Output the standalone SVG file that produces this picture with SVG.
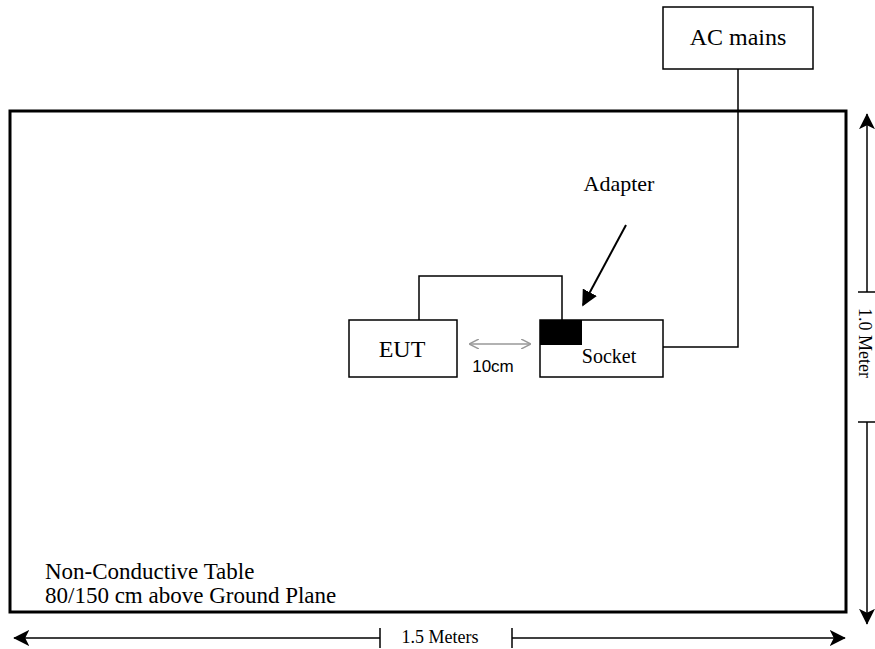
<svg xmlns="http://www.w3.org/2000/svg" width="875" height="649" viewBox="0 0 875 649">
<style>
.t{font-family:"Liberation Serif","Times New Roman",serif;fill:#000}
.box{fill:#fff;stroke:#000;stroke-width:1.5}
.ln{fill:none;stroke:#000;stroke-width:1.5}
</style>
<defs>
<marker id="big" viewBox="0 0 20 20" refX="19" refY="10" markerWidth="16" markerHeight="16" markerUnits="userSpaceOnUse" orient="auto-start-reverse">
<path d="M0,0 L20,10 L0,20 L5,10 Z" fill="#000"/>
</marker>
<marker id="gray" viewBox="0 0 10 10" refX="9" refY="5" markerWidth="10" markerHeight="10" markerUnits="userSpaceOnUse" orient="auto-start-reverse">
<path d="M0,0 L10,5 L0,10" fill="none" stroke="#999" stroke-width="1.5"/>
</marker>
<marker id="adp" viewBox="0 0 10 10" refX="9" refY="5" markerWidth="16" markerHeight="16" markerUnits="userSpaceOnUse" orient="auto">
<path d="M0,0 L10,5 L0,10 Z" fill="#000"/>
</marker>
</defs>
<g id="table">
<rect x="10" y="111" width="836" height="501" fill="none" stroke="#000" stroke-width="3"/>
<text class="t" x="45" y="579" font-size="23">Non-Conductive Table</text>
<text class="t" x="45" y="603" font-size="23">80/150 cm above Ground Plane</text>
</g>
<g id="connectors">
<polyline class="ln" points="738,69 738,347 663,347"/>
<polyline class="ln" points="419,320 419,276 562,276 562,320"/>
<line x1="470" y1="344" x2="530" y2="344" stroke="#999" stroke-width="1.5" marker-start="url(#gray)" marker-end="url(#gray)"/>
<line x1="626" y1="225" x2="583" y2="305" stroke="#000" stroke-width="2" marker-end="url(#adp)"/>
</g>
<g id="ac-mains">
<rect class="box" x="663" y="7" width="150" height="62"/>
<text class="t" x="738" y="45" font-size="24" text-anchor="middle">AC mains</text>
</g>
<g id="eut">
<rect class="box" x="349" y="320" width="108" height="57"/>
<text class="t" x="402" y="357" font-size="24" text-anchor="middle">EUT</text>
</g>
<g id="socket">
<rect class="box" x="540" y="320" width="123" height="57"/>
<rect x="540" y="320" width="42" height="25" fill="#000"/>
<text class="t" x="609" y="363" font-size="20" text-anchor="middle">Socket</text>
</g>
<g id="adapter-label">
<text class="t" x="619" y="191" font-size="22" text-anchor="middle">Adapter</text>
</g>
<text x="493" y="372" font-family="Liberation Sans, Arial, sans-serif" font-size="17" text-anchor="middle">10cm</text>
<g id="dim-width">
<line x1="14" y1="638" x2="380" y2="638" stroke="#000" stroke-width="1.5" marker-start="url(#big)"/>
<line x1="512" y1="638" x2="845" y2="638" stroke="#000" stroke-width="1.5" marker-end="url(#big)"/>
<line x1="380" y1="628" x2="380" y2="648" stroke="#000" stroke-width="1.5"/>
<line x1="512" y1="628" x2="512" y2="648" stroke="#000" stroke-width="1.5"/>
<text class="t" x="440" y="643" font-size="18" text-anchor="middle">1.5 Meters</text>
</g>
<g id="dim-height">
<line x1="867" y1="114" x2="867" y2="292" stroke="#000" stroke-width="1.5" marker-start="url(#big)"/>
<line x1="867" y1="422" x2="867" y2="624" stroke="#000" stroke-width="1.5" marker-end="url(#big)"/>
<line x1="858" y1="292" x2="875" y2="292" stroke="#000" stroke-width="1.5"/>
<line x1="858" y1="422" x2="875" y2="422" stroke="#000" stroke-width="1.5"/>
<text class="t" font-size="18" text-anchor="middle" transform="translate(859,343) rotate(90)">1.0 Meter</text>
</g>
</svg>
